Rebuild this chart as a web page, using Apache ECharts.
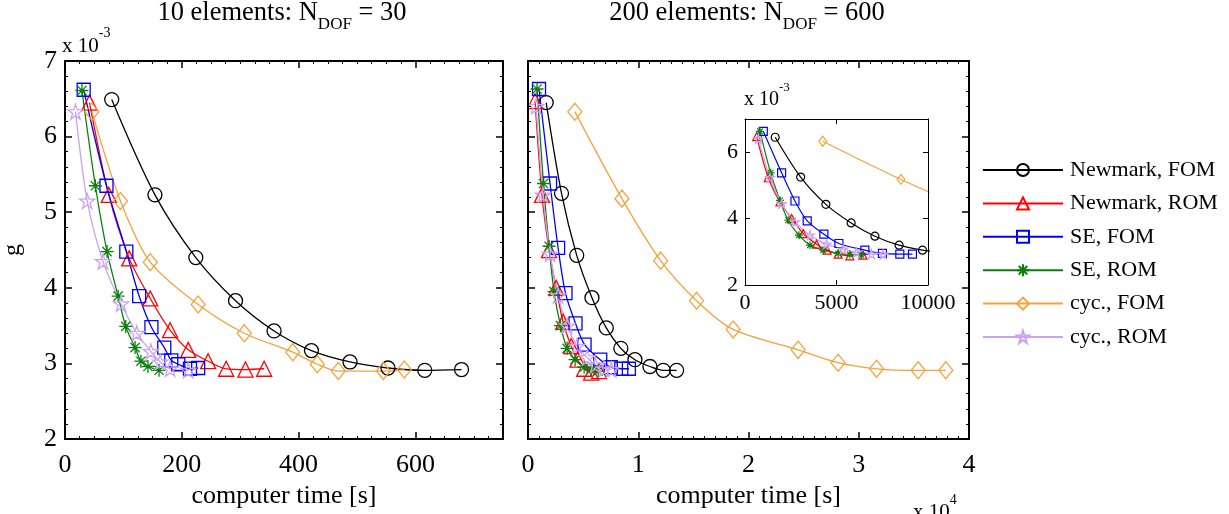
<!DOCTYPE html>
<html><head><meta charset="utf-8">
<script src="https://cdn.jsdelivr.net/npm/echarts@6/dist/echarts.min.js"></script>
<style>html,body{margin:0;padding:0;background:#fff}#c{width:1229px;height:514px}</style>
</head><body><div id="c"></div>
<script>
const FONT = '"Liberation Serif","Times New Roman",serif';

// ---- data (g in units of 1e-3) ----
const seriesNames = ['Newmark, FOM', 'Newmark, ROM', 'SE, FOM', 'SE, ROM', 'cyc., FOM', 'cyc., ROM'];

// 10 elements, computer time [s]
const leftNewmarkFOM_t = [80, 154, 224, 292, 358, 422, 488, 553, 616, 679];
const leftNewmarkFOM_g = [6.49, 5.23, 4.40, 3.83, 3.43, 3.17, 3.02, 2.94, 2.91, 2.92];
const leftNewmarkROM_t = [42, 75, 110, 146, 180, 211, 245, 276, 309, 341];
const leftNewmarkROM_g = [6.45, 5.23, 4.39, 3.86, 3.44, 3.18, 3.03, 2.93, 2.92, 2.93];
const leftSEFOM_t = [32, 71, 105, 127, 148, 170, 182, 194, 214, 228];
const leftSEFOM_g = [6.62, 5.35, 4.48, 3.89, 3.48, 3.21, 3.04, 2.99, 2.93, 2.94];
const leftSEROM_t = [29, 52, 72, 91, 104, 120, 130, 142, 161];
const leftSEROM_g = [6.61, 5.35, 4.48, 3.89, 3.49, 3.21, 3.03, 2.96, 2.91];
const leftCycFOM_t = [46, 95, 146, 228, 307, 390, 432, 468, 545, 581];
const leftCycFOM_g = [6.33, 5.15, 4.34, 3.78, 3.40, 3.15, 2.99, 2.90, 2.90, 2.92];
const leftCycROM_t = [18, 38, 65, 96, 123, 147, 163, 180, 211];
const leftCycROM_g = [6.33, 5.15, 4.35, 3.79, 3.40, 3.16, 3.02, 2.93, 2.91];

// 200 elements, computer time [s]
const rightNewmarkFOM_t = [1650, 3040, 4420, 5800, 7100, 8420, 9700, 11060, 12270, 13480];
const rightNewmarkFOM_g = [6.45, 5.25, 4.43, 3.87, 3.47, 3.20, 3.05, 2.96, 2.91, 2.91];
const rightNewmarkROM_t = [640, 1270, 1910, 2550, 3180, 3910, 4490, 5090, 5730, 6450];
const rightNewmarkROM_g = [6.47, 5.23, 4.50, 4.00, 3.55, 3.23, 3.05, 2.93, 2.88, 2.90];
const rightSEFOM_t = [1000, 2000, 2730, 3400, 4310, 5130, 6550, 7510, 8460, 9150];
const rightSEFOM_g = [6.63, 5.38, 4.53, 3.93, 3.53, 3.25, 3.05, 2.95, 2.93, 2.93];
const rightSEROM_t = [820, 1400, 1910, 2360, 2950, 3550, 4270, 5090, 5730, 6360];
const rightSEROM_g = [6.63, 5.38, 4.55, 3.95, 3.50, 3.20, 3.05, 2.95, 2.92, 2.90];
const rightCycFOM_t = [4250, 8520, 12030, 15290, 18610, 24500, 28130, 31610, 35390, 37900];
const rightCycFOM_g = [6.33, 5.18, 4.36, 3.83, 3.45, 3.18, 3.01, 2.93, 2.91, 2.91];
const rightCycROM_t = [730, 1360, 2000, 2730, 3550, 4450, 5360, 6090, 6910, 7550];
const rightCycROM_g = [6.40, 5.23, 4.45, 3.90, 3.50, 3.23, 3.08, 2.98, 2.93, 2.92];

const leftX = [leftNewmarkFOM_t, leftNewmarkROM_t, leftSEFOM_t, leftSEROM_t, leftCycFOM_t, leftCycROM_t];
const leftY = [leftNewmarkFOM_g, leftNewmarkROM_g, leftSEFOM_g, leftSEROM_g, leftCycFOM_g, leftCycROM_g];
const rightX = [rightNewmarkFOM_t, rightNewmarkROM_t, rightSEFOM_t, rightSEROM_t, rightCycFOM_t, rightCycROM_t];
const rightY = [rightNewmarkFOM_g, rightNewmarkROM_g, rightSEFOM_g, rightSEROM_g, rightCycFOM_g, rightCycROM_g];

// ---- styles ----
const colors = ['#000000', '#ff0000', '#0000ff', '#0a800a', '#f5a23a', '#c9a2f2'];
const ASTER = 'path://M0,-10L0,10M-10,0L10,0M-7.1,-7.1L7.1,7.1M-7.1,7.1L7.1,-7.1';
const STAR = 'path://M0,-100L22.45,-30.9L95.1,-30.9L36.33,11.8L58.78,80.9L0,38.2L-58.78,80.9L-36.33,11.8L-95.1,-30.9L-22.45,-30.9Z';
const DIAM = 'path://M0,-10L8,0L0,10L-8,0Z';
const symbols = ['circle', 'triangle', 'rect', ASTER, DIAM, STAR];
const sizesMain = [14, 15, 13, 13, [14, 17], 15];
const sizesInset = [8, 8, 8, 8, [8, 10], 9];

const zip = (a, b) => a.map((v, i) => [v, b[i]]);

function mkSeries(xs, ys, xi, yi, sizes, lw) {
  return seriesNames.map((name, k) => ({
    name, type: 'line', xAxisIndex: xi, yAxisIndex: yi,
    data: zip(xs[k], ys[k]),
    smooth: 0.3,
    symbol: symbols[k], symbolSize: sizes[k], symbolKeepAspect: false,
    showAllSymbol: true,
    lineStyle: { color: colors[k], width: lw },
    itemStyle: { color: 'none', borderColor: colors[k], borderWidth: lw },
    emphasis: { disabled: true },
    clip: true, animation: false
  }));
}

function baseAxis(grid, pos, min, max, interval, lw, minorSplit) {
  return {
    type: 'value', gridIndex: grid, position: pos, min, max, interval, z: 10,
    axisLine: { show: true, onZero: false, lineStyle: { color: '#000', width: lw } },
    axisTick: { show: true, inside: true, length: lw > 1 ? 7 : 5, lineStyle: { color: '#000', width: lw > 1 ? 1.5 : 1 } },
    minorTick: { show: minorSplit > 0, splitNumber: minorSplit || 5, length: 3, lineStyle: { color: '#000', width: 1 } },
    splitLine: { show: false }, minorSplitLine: { show: false },
    axisLabel: { show: false }
  };
}
const lbl = (fs, margin, showMax, fmt) => ({ show: true, fontFamily: FONT, fontSize: fs, color: '#000', margin, showMaxLabel: showMax, showMinLabel: true, formatter: fmt || (v => String(v)) });
const nameStyle = { fontFamily: FONT, fontSize: 26, color: '#000' };

const xAxis = [
  Object.assign(baseAxis(0, 'bottom', 0, 750, 200, 2, 8), { axisLabel: lbl(26, 13, false), name: 'computer time [s]', nameLocation: 'middle', nameGap: 41, nameTextStyle: nameStyle }),
  baseAxis(0, 'top', 0, 750, 200, 2, 8),
  Object.assign(baseAxis(1, 'bottom', 0, 40000, 10000, 2, 10), { axisLabel: lbl(26, 13, true, v => String(v / 10000)), name: 'computer time [s]', nameLocation: 'middle', nameGap: 41, nameTextStyle: nameStyle }),
  baseAxis(1, 'top', 0, 40000, 10000, 2, 10),
  Object.assign(baseAxis(2, 'bottom', 0, 10000, 5000, 1, 0), { axisLabel: lbl(22, 7, true) }),
  baseAxis(2, 'top', 0, 10000, 5000, 1, 0)
];
const yAxis = [
  Object.assign(baseAxis(0, 'left', 2, 7, 1, 2, 5), { axisLabel: lbl(26, 8, true), name: 'g', nameLocation: 'middle', nameGap: 40, nameRotate: 90, nameTextStyle: { fontFamily: FONT, fontSize: 24, color: '#000' } }),
  baseAxis(0, 'right', 2, 7, 1, 2, 5),
  baseAxis(1, 'left', 2, 7, 1, 2, 5),
  baseAxis(1, 'right', 2, 7, 1, 2, 5),
  Object.assign(baseAxis(2, 'left', 2, 7, 2, 1, 0), { axisLabel: lbl(22, 7, false) }),
  baseAxis(2, 'right', 2, 7, 2, 1, 0)
];

// ---- text with sub/superscripts ----
const mctx = document.createElement('canvas').getContext('2d');
function tw(t, s) { mctx.font = s + 'px ' + FONT; return mctx.measureText(t).width; }
function textRun(parts, x, cy, align) {
  const total = parts.reduce((a, p) => a + tw(p.t, p.s), 0);
  let cx = align === 'center' ? x - total / 2 : x;
  return parts.map(p => {
    const el = {
      type: 'text', x: cx, y: cy + (p.dy || 0), silent: true, z: 20,
      style: { text: p.t, font: p.s + 'px ' + FONT, fill: '#000', align: 'left', verticalAlign: 'middle', textAlign: 'left', textVerticalAlign: 'middle' }
    };
    cx += tw(p.t, p.s);
    return el;
  });
}

const graphics = [].concat(
  textRun([{ t: '10 elements: N', s: 26.5 }, { t: 'DOF', s: 17, dy: 12 }, { t: ' = 30', s: 26.5 }], 282, 13, 'center'),
  textRun([{ t: '200 elements: N', s: 26.5 }, { t: 'DOF', s: 17, dy: 12 }, { t: ' = 600', s: 26.5 }], 747, 13, 'center'),
  textRun([{ t: 'x 10', s: 21 }, { t: '-3', s: 14, dy: -13 }], 62, 46, 'left'),
  textRun([{ t: 'x 10', s: 20 }, { t: '-3', s: 13, dy: -12 }], 744, 100, 'left'),
  textRun([{ t: 'x 10', s: 21 }, { t: '4', s: 14, dy: -12 }], 913, 512, 'left')
);

const option = {
  animation: false,
  backgroundColor: '#fff',
  grid: [
    { left: 61, top: 61, width: 442, height: 380, containLabel: false },
    { left: 528, top: 61, width: 441, height: 380, containLabel: false },
    { left: 745, top: 119, width: 183, height: 166, containLabel: false }
  ],
  xAxis, yAxis,
  legend: {
    data: seriesNames, orient: 'vertical', left: 977, top: 154,
    itemWidth: 80, itemHeight: 15, itemGap: 11.4,
    textStyle: { fontFamily: FONT, fontSize: 22, color: '#000', padding: [0, 0, 0, 2] },
    selectedMode: false
  },
  graphic: graphics,
  series: [].concat(
    mkSeries(leftX, leftY, 0, 0, sizesMain, 1.3),
    mkSeries(rightX, rightY, 2, 2, sizesMain, 1.3),
    mkSeries(rightX, rightY, 4, 4, sizesInset, 1.2)
  )
};

const chart = echarts.init(document.getElementById('c'), null, { renderer: 'canvas' });
chart.setOption(option);
</script>
</body></html>
